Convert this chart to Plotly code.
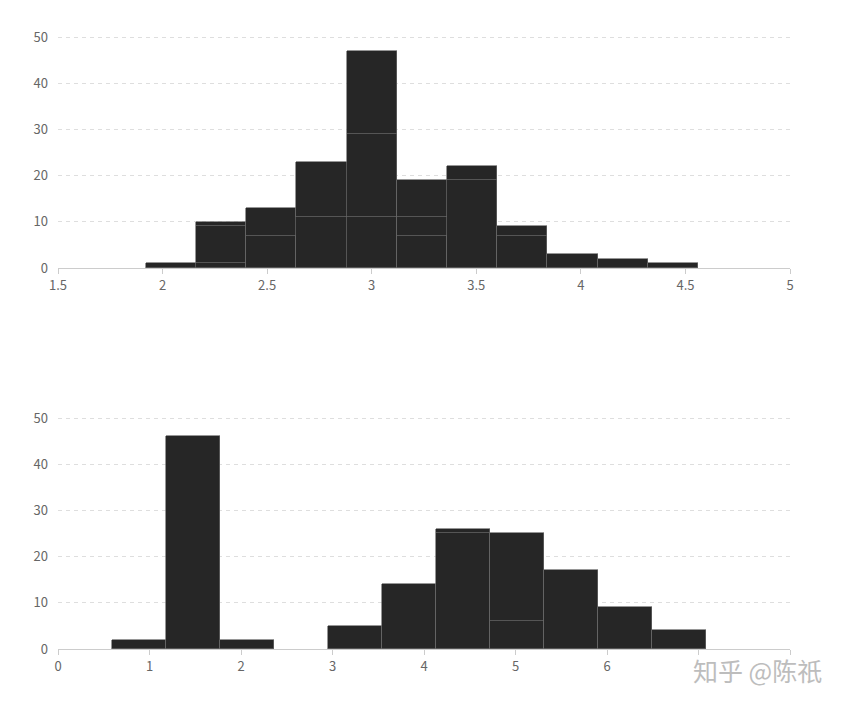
import plotly.graph_objects as go

# top histogram: sepal width, bins of 0.24 starting at 1.92
sw_edges_start = 1.92
sw_bin_width = 0.24
sw_setosa = [0, 1, 0, 0, 11, 7, 19, 7, 3, 2, 1]
sw_versicolor = [1, 8, 7, 11, 18, 4, 0, 0, 0, 0, 0]
sw_virginica = [0, 1, 6, 12, 18, 8, 3, 2, 0, 0, 0]

# bottom histogram: petal length, bins of 0.59 starting at 0.59
pl_edges_start = 0.59
pl_bin_width = 0.59
pl_setosa = [2, 46, 2, 0, 0, 0, 0, 0, 0, 0, 0]
pl_versicolor = [0, 0, 0, 0, 5, 14, 25, 6, 0, 0, 0]
pl_virginica = [0, 0, 0, 0, 0, 0, 1, 19, 17, 9, 4]

top_ticks = [1.5, 2, 2.5, 3, 3.5, 4, 4.5, 5]
top_ticktext = ["1.5", "2", "2.5", "3", "3.5", "4", "4.5", "5"]
bottom_ticks = [0, 1, 2, 3, 4, 5, 6, 7, 8]
bottom_ticktext = ["0", "1", "2", "3", "4", "5", "6", "", ""]
y_ticks = [0, 10, 20, 30, 40, 50]

BAR = "#262626"
EDGE = "#6a6a6a"
FONT = "Noto Sans CJK SC"
LABEL = "#666666"


def centers(start, width, n):
    return [start + width * (i + 0.5) for i in range(n)]


fig = go.Figure()

for xa, ya, start, width, series in [
    ("x", "y", sw_edges_start, sw_bin_width, [sw_setosa, sw_versicolor, sw_virginica]),
    ("x2", "y2", pl_edges_start, pl_bin_width, [pl_setosa, pl_versicolor, pl_virginica]),
]:
    xs = centers(start, width, len(series[0]))
    for vals in series:
        # empty bins are left out so they don't draw a stray border
        fig.add_trace(go.Bar(
            x=xs, y=[v if v else None for v in vals], width=width,
            xaxis=xa, yaxis=ya,
            marker=dict(color=BAR, line=dict(color=EDGE, width=0.7)),
            showlegend=False,
        ))

axis_common = dict(
    showgrid=False, zeroline=False, showline=True, linecolor="#cccccc",
    linewidth=1, ticks="outside", ticklen=5, tickcolor="#cccccc",
    tickfont=dict(family=FONT, size=13, color=LABEL),
)
yaxis_common = dict(
    range=[0, 50.4], tickvals=y_ticks, showgrid=True,
    gridcolor="#dedede", griddash="4px,4px", gridwidth=1,
    zeroline=False, showline=False, ticks="", ticklabelstandoff=9,
    tickfont=dict(family=FONT, size=13, color=LABEL),
)

fig.add_annotation(
    text="知乎 @陈祇", xref="paper", yref="paper", x=1.046, y=-0.006,
    xanchor="right", yanchor="middle", showarrow=False,
    font=dict(family=FONT, size=25, color="#bdbdbd"),
)

fig.update_layout(
    width=836, height=698,
    margin=dict(l=50, r=54, t=20, b=40),
    barmode="stack", bargap=0,
    plot_bgcolor="white", paper_bgcolor="white",
    xaxis=dict(range=[1.5, 5], tickvals=top_ticks, ticktext=top_ticktext,
               anchor="y", **axis_common),
    xaxis2=dict(range=[0, 8], tickvals=bottom_ticks, ticktext=bottom_ticktext,
                anchor="y2", **axis_common),
    yaxis=dict(domain=[0.6238, 0.98879], anchor="x", **yaxis_common),
    yaxis2=dict(domain=[0.02665, 0.39161], anchor="x2", **yaxis_common),
)

fig.write_html("out.html")
